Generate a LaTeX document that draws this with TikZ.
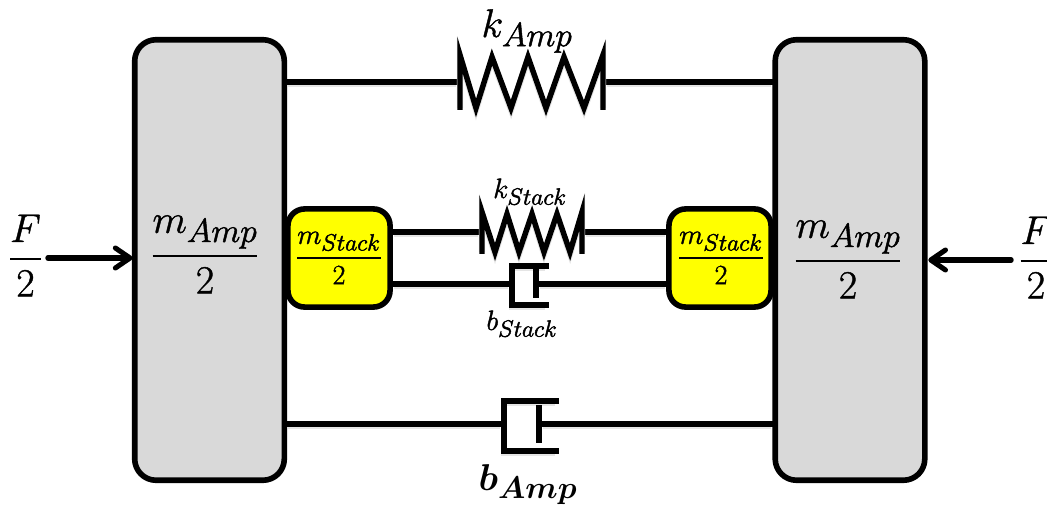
\documentclass[tikz,border=0pt]{standalone}
\usepackage{fix-cm}
\usepackage{amsmath}
\usepackage{graphicx}
\usetikzlibrary{arrows.meta}
\newcommand{\subbig}[1]{\scalebox{1.2}{$\scriptstyle #1$}}
\newcommand{\heavy}[1]{\special{pdf:code 2 Tr 0.3 w}#1\special{pdf:code 0 Tr 1 w}}
\newcommand{\massfrac}[2]{\heavy{$\genfrac{}{}{1.6pt}{0}{#1}{#2}$}}
\tikzset{
  x=0.75pt,y=-0.75pt,
  softshadow/.style={preaction={draw=black!10,line width=4.6pt,shorten <=3pt,shorten >=3pt,transform canvas={yshift=-1.6pt}}},
  mech/.style={line width=4.1pt,black,line join=miter,softshadow},
  barline/.style={line width=4.1pt,black,softshadow},
  ampblock/.style={draw=black,fill=blockgray,line width=4.2pt,rounded corners=16pt,outer sep=0pt,minimum width=112.2pt,minimum height=330.4pt,inner sep=0pt},
  stackblock/.style={draw=black,fill=blockyellow,line width=4.2pt,rounded corners=12.5pt,outer sep=0pt,minimum width=76.6pt,minimum height=73.6pt,inner sep=0pt},
  biglabel/.style={font=\fontsize{30}{36}\selectfont,inner sep=0pt,anchor=base},
  boldlabel/.style={font=\fontsize{28}{34}\selectfont,inner sep=0pt,anchor=base},
  smalllabel/.style={font=\fontsize{21}{25}\selectfont,inner sep=0pt,anchor=base},
  forcearrow/.style={line width=4.1pt,black,-{Straight Barb[length=11pt,width=15pt,line width=3.8pt,round]},line cap=round},
}
\definecolor{blockgray}{HTML}{D9D9D9}
\definecolor{blockyellow}{HTML}{FFFF00}
\begin{document}
\begin{tikzpicture}
\useasboundingbox (0,0) rectangle (1047,506);
\clip (0,0) rectangle (1047,506);
% masses
\node[ampblock] (mL) at (209.5,260) {};
\node[ampblock] (mR) at (850,260) {};
\node[stackblock] (sL) at (339,258) {};
\node[stackblock] (sR) at (720,258) {};
% mass labels
\node[biglabel] (lmL) at (205,266) {\massfrac{m_{\subbig{Amp}}}{2}};
\node[biglabel] (lmR) at (848,271) {\massfrac{m_{\subbig{Amp}}}{2}};
\node[smalllabel] (lsL) at (339,265) {\massfrac{m_{\subbig{Stack}}}{2}};
\node[smalllabel] (lsR) at (721,265) {\massfrac{m_{\subbig{Stack}}}{2}};
% k_Amp spring
\coordinate (kaL) at (460,82);
\coordinate (kaR) at (603,82);
\draw[barline] (mL.east |- kaL) -- (kaL);
\draw[barline] (kaR) -- (mR.west |- kaR);
\draw[mech] (460,110) -- (460,55) -- (476,108) -- (492,57) -- (511,108) -- (528,57) -- (546,108) -- (564,57) -- (584,108) -- (603,55) -- (603,110);
\node[biglabel] (lka) at (527,37) {\heavy{$k_{\subbig{Amp}}$}};
% k_Stack spring
\coordinate (ksL) at (482,232);
\coordinate (ksR) at (582,232);
\draw[barline] (sL.east |- ksL) -- (ksL);
\draw[barline] (ksR) -- (sR.west |- ksR);
\draw[mech] (482,254) -- (482,212) -- (495,252) -- (507,214) -- (519,252) -- (532,214) -- (544,252) -- (557,214) -- (570,252) -- (582,212) -- (582,254);
\node[smalllabel] (lks) at (530,198) {\heavy{$k_{\subbig{Stack}}$}};
% b_Stack dashpot
\coordinate (bsL) at (512,284);
\coordinate (bsR) at (536,284);
\draw[barline] (sL.east |- bsL) -- (bsL);
\draw[barline] (bsR) -- (sR.west |- bsR);
\draw[mech] (549,266) -- (512,266) -- (512,305) -- (549,305);
\draw[mech] (536,269) -- (536,298);
\node[smalllabel] (lbs) at (522,330) {\heavy{$b_{\subbig{Stack}}$}};
% b_Amp dashpot
\coordinate (baL) at (504,424);
\coordinate (baR) at (539,424);
\draw[barline] (mL.east |- baL) -- (baL);
\draw[barline] (baR) -- (mR.west |- baR);
\draw[mech] (559,401) -- (504,401) -- (504,451) -- (559,451);
\draw[mech] (539,405) -- (539,443);
\node[boldlabel] (lba) at (528,490) {$\boldsymbol{b}_{\subbig{\boldsymbol{Amp}}}$};
% forces
\coordinate (fL) at (48,258);
\coordinate (fR) at (1011,260);
\draw[forcearrow] (fL) -- ([xshift=-1.6pt]fL -| mL.west);
\draw[forcearrow] (fR) -- ([xshift=2.6pt]fR -| mR.east);
\node[biglabel] (lfL) at (25.5,269) {\massfrac{F}{2}};
\node[biglabel] (lfR) at (1036,271) {\massfrac{F}{2}};
\end{tikzpicture}
\end{document}
